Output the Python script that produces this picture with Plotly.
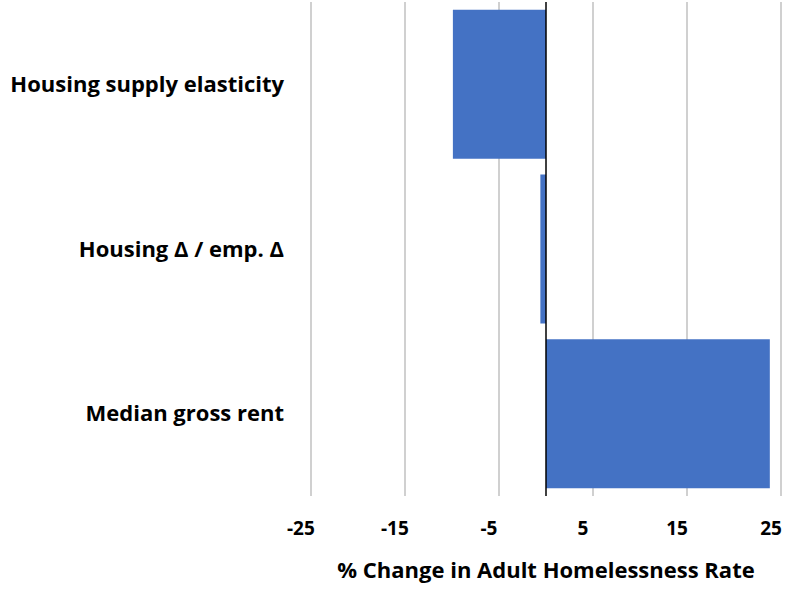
import plotly.graph_objects as go

# Factors and their estimated effect on the adult homelessness rate (%)
factors = ["Housing supply elasticity", "Housing Δ / emp. Δ", "Median gross rent"]
pct_change = [-9.9, -0.6, 23.8]
x_ticks = [-25, -15, -5, 5, 15, 25]

BAR_BLUE = "#4472C4"
FONT = "Open Sans"

fig = go.Figure(
    go.Bar(
        x=pct_change,
        y=factors,
        orientation="h",
        marker=dict(color=BAR_BLUE, line=dict(width=0)),
        width=0.905,
    )
)

# zero reference line drawn over the bars
fig.add_shape(
    type="line", xref="x", yref="paper", x0=0, x1=0, y0=0, y1=1,
    line=dict(color="black", width=1.5), layer="above",
)

fig.update_layout(
    width=786,
    height=592,
    margin=dict(l=309, r=3, t=2, b=96),
    paper_bgcolor="white",
    plot_bgcolor="white",
    showlegend=False,
    bargap=0.095,
    font=dict(family=FONT, color="black"),
    xaxis=dict(
        range=[-25.2, 25.2],
        tickvals=x_ticks,
        ticktext=[str(v) for v in x_ticks],
        showgrid=True,
        gridcolor="#d0d0d0",
        gridwidth=1.5,
        zeroline=False,
        showline=False,
        ticks="",
        ticklabelstandoff=19,
        ticklabelshift=-10,
        ticklabeloverflow="allow",
        tickfont=dict(family=FONT, size=19, color="black", weight="bold"),
        title=dict(
            text="% Change in Adult Homelessness Rate",
            font=dict(family=FONT, size=22, color="black", weight="bold"),
            standoff=22,
        ),
    ),
    yaxis=dict(
        categoryorder="array",
        categoryarray=factors,
        autorange="reversed",
        showgrid=False,
        zeroline=False,
        showline=False,
        ticks="",
        ticklabelstandoff=24,
        tickfont=dict(family=FONT, size=22, color="black", weight="bold"),
    ),
)

fig.write_html("out.html")
